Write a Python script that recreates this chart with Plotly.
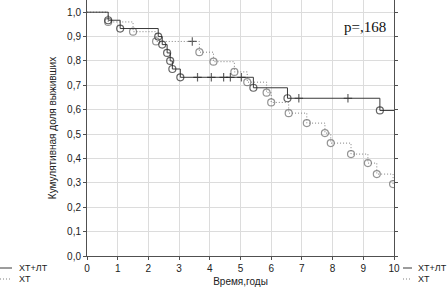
import plotly.graph_objects as go

# ---- data ----
# ХТ+ЛТ (solid): time, survival, kind ('s' start, 'e' event, 'c' censored, 'n' end)
xtlt_time = [0.0, 0.69, 1.08, 2.32, 2.45, 2.61, 2.71, 2.78, 3.04, 3.60, 4.05, 4.45, 4.67, 5.03, 5.42, 6.53, 6.90, 8.50, 9.54, 10.0]
xtlt_surv = [1.0, 0.967, 0.933, 0.900, 0.867, 0.833, 0.800, 0.767, 0.733, 0.733, 0.733, 0.733, 0.733, 0.733, 0.690, 0.647, 0.647, 0.647, 0.597, 0.597]
xtlt_kind = ['s', 'e', 'e', 'e', 'e', 'e', 'e', 'e', 'e', 'c', 'c', 'c', 'c', 'c', 'e', 'e', 'c', 'c', 'e', 'n']

# ХТ (dotted)
xt_time = [0.0, 0.69, 1.50, 2.25, 3.43, 3.66, 4.12, 4.80, 5.22, 5.85, 6.00, 6.57, 7.16, 7.75, 7.94, 8.60, 9.15, 9.44, 9.97]
xt_surv = [1.0, 0.960, 0.920, 0.880, 0.880, 0.836, 0.797, 0.755, 0.713, 0.670, 0.630, 0.586, 0.545, 0.504, 0.463, 0.418, 0.381, 0.336, 0.295]
xt_kind = ['s', 'e', 'e', 'e', 'c', 'e', 'e', 'e', 'e', 'e', 'e', 'e', 'e', 'e', 'e', 'e', 'e', 'e', 'e']

series_names = ["ХТ+ЛТ", "ХТ"]
x_tickvals = [0, 1, 2, 3, 4, 5, 6, 7, 8, 9, 10]
x_ticktext = ["0", "1", "2", "3", "4", "5", "6", "7", "8", "9", "10"]
y_tickvals = [0.0, 0.1, 0.2, 0.3, 0.4, 0.5, 0.6, 0.7, 0.8, 0.9, 1.0]
y_ticktext = ["0,0", "0,1", "0,2", "0,3", "0,4", "0,5", "0,6", "0,7", "0,8", "0,9", "1,0"]
p_text = "p=,168"
x_title = "Время,годы"
y_title = "Кумулятивная доля выживших"

SYM = {'s': 'circle-open', 'e': 'circle-open', 'c': 'cross-thin-open', 'n': 'circle-open'}
SIZE = {'s': 0, 'e': 7, 'c': 6, 'n': 0}

solid_col = "#3a3a3a"
dot_col = "#808080"

fig = go.Figure()
fig.add_trace(go.Scatter(
    x=xt_time, y=xt_surv, mode="lines+markers", name=series_names[1],
    line=dict(shape="hv", dash="1px,2px", width=1, color=dot_col),
    marker=dict(symbol=[SYM[k] for k in xt_kind], size=[SIZE[k] for k in xt_kind],
                color=["#222222" if k == 'c' else "#666666" for k in xt_kind],
                line=dict(width=1.2)),
    showlegend=False))
fig.add_trace(go.Scatter(
    x=xtlt_time, y=xtlt_surv, mode="lines+markers", name=series_names[0],
    line=dict(shape="hv", width=1, color=solid_col),
    marker=dict(symbol=[SYM[k] for k in xtlt_kind], size=[SIZE[k] for k in xtlt_kind],
                color="#222222", line=dict(width=1.2)),
    showlegend=False))

L, R, T, B = 87, 53, 0, 31
W, H = 447, 287
pw, ph = W - L - R, H - T - B

def px2paper(px, py):
    return (px - L) / pw, (H - B - py) / ph

# manual legends (left and right), as in the original
shapes = []
annotations = []
for (x0, x1, xt) in [(0, 12, 17), (403, 412, 416)]:
    for i, (py, dash, col) in enumerate([(268, "solid", solid_col), (279, "1px,2px", dot_col)]):
        a0, yy = px2paper(x0, py)
        a1, _ = px2paper(x1, py)
        shapes.append(dict(type="line", xref="paper", yref="paper", x0=a0, x1=a1, y0=yy, y1=yy,
                           line=dict(color=col, width=1, dash=dash)))
        ta, _ = px2paper(xt, py)
        annotations.append(dict(xref="paper", yref="paper", x=ta, y=yy, xanchor="left", yanchor="middle",
                                text=series_names[i], showarrow=False,
                                font=dict(family="Liberation Sans, Arial", size=9, color="#222")))

pa, pb = px2paper(388, 27)
annotations.append(dict(xref="paper", yref="paper", x=pa, y=pb, xanchor="right", yanchor="middle",
                        text=p_text, showarrow=False,
                        font=dict(family="Liberation Serif, Times New Roman", size=15, color="#111")))

axis_common = dict(showgrid=True, gridcolor="#dcdcdc", gridwidth=1, showline=True, linecolor="#505050",
                   linewidth=1, mirror="ticks", ticks="outside", ticklen=3, tickcolor="#505050",
                   zeroline=False, tickfont=dict(family="Liberation Sans, Arial", size=10, color="#222"))

fig.update_layout(
    width=W, height=H, margin=dict(l=L, r=R, t=T, b=B, pad=0, autoexpand=False),
    paper_bgcolor="white", plot_bgcolor="white",
    xaxis=dict(range=[0, 10], tickvals=x_tickvals, ticktext=x_ticktext,
               title=dict(text=x_title, standoff=4, font=dict(family="Liberation Sans, Arial", size=10, color="#222")),
               **axis_common),
    yaxis=dict(range=[0, 1.05], tickvals=y_tickvals, ticktext=y_ticktext,
               title=dict(text=y_title, standoff=8, font=dict(family="Liberation Sans, Arial", size=10, color="#222")),
               **axis_common),
    shapes=shapes, annotations=annotations, showlegend=False,
)
fig.write_html("out.html", config={"displayModeBar": False},
               post_script="document.body.style.margin='0';document.body.style.padding='0';")
